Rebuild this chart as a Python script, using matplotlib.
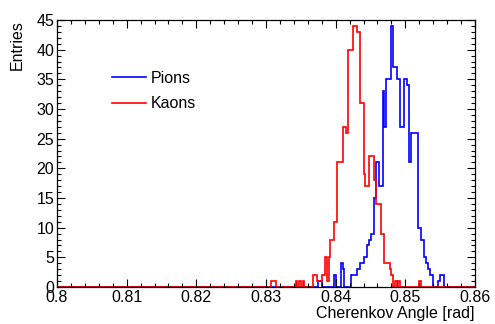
import numpy as np
import matplotlib
matplotlib.use("Agg")
import matplotlib.pyplot as plt
from matplotlib.lines import Line2D
from matplotlib.ticker import MultipleLocator

plt.rcParams['font.family'] = ['Liberation Sans', 'DejaVu Sans']

# histogram binning: 240 bins of 0.00025 rad between 0.8 and 0.86
x_min, x_max, n_bins = 0.8, 0.86, 240
first_bin = 120  # counts below start at this bin, everything else is empty

kaon_counts = [
    0, 0, 0, 1, 1, 1, 0, 0, 0, 0,
    0, 0, 0, 0, 0, 0, 0, 1, 0, 1,
    0, 1, 0, 0, 0, 0, 0, 2, 2, 1,
    1, 1, 2, 2, 5, 1, 5, 8, 8, 11,
    11, 21, 21, 21, 27, 27, 26, 40, 40, 40,
    44, 44, 43, 43, 31, 31, 19, 17, 17, 22,
    22, 22, 18, 14, 14, 14, 9, 9, 4, 4,
    4, 3, 2, 0, 1, 0, 1, 0, 0, 0,
    0, 0, 0, 0, 0, 0, 0, 0, 1, 0,
    0, 0, 0, 0, 0, 0, 0, 0, 0, 0,
    0, 0, 0, 0, 0, 0,
]

pion_counts = [
    0, 0, 0, 0, 0, 0, 0, 0, 0, 0,
    0, 0, 0, 0, 0, 0, 0, 0, 0, 0,
    0, 0, 0, 0, 0, 0, 0, 0, 0, 0,
    1, 1, 0, 0, 0, 0, 0, 0, 0, 2,
    0, 0, 0, 4, 3, 0, 0, 0, 0, 2,
    2, 2, 3, 3, 4, 4, 5, 5, 7, 8,
    9, 9, 15, 21, 21, 17, 17, 33, 27, 35,
    35, 35, 44, 37, 37, 35, 35, 27, 27, 35,
    35, 34, 21, 26, 26, 26, 26, 10, 10, 8,
    8, 5, 4, 3, 2, 2, 0, 0, 0, 1,
    2, 2, 0, 0, 0, 0,
]


def full_hist(counts):
    h = np.zeros(n_bins)
    h[first_bin:first_bin + len(counts)] = counts
    return h


def main():
    edges = np.linspace(x_min, x_max, n_bins + 1)
    pions = full_hist(pion_counts)
    kaons = full_hist(kaon_counts)

    fig = plt.figure(figsize=(4.95, 3.24), dpi=100)
    ax = fig.add_axes([57 / 495, 1 - 287 / 324, 418 / 495, 267 / 324])

    ax.stairs(pions, edges, color='#0000ff', lw=1.2)
    ax.stairs(kaons, edges, color='#ff0000', lw=1.2)

    ax.set_xlim(x_min, x_max)
    ax.set_ylim(0, 45)

    ax.xaxis.set_major_locator(MultipleLocator(0.01))
    ax.xaxis.set_minor_locator(MultipleLocator(0.002))
    ax.yaxis.set_major_locator(MultipleLocator(5))
    ax.yaxis.set_minor_locator(MultipleLocator(1))
    ax.xaxis.set_major_formatter(plt.FuncFormatter(lambda v, p: '0.8' if abs(v - 0.8) < 1e-9 else '%.2f' % v))
    ax.tick_params(which='both', direction='in', top=True, right=True,
                   labelsize=11.5, width=0.8, colors='black')
    ax.tick_params(which='major', length=6)
    ax.tick_params(which='minor', length=3)
    ax.tick_params(axis='x', pad=2)
    ax.tick_params(axis='y', pad=2)
    for s in ax.spines.values():
        s.set_linewidth(0.9)

    ax.set_xlabel('Cherenkov Angle [rad]', fontsize=11.5, loc='right', labelpad=1)
    ax.set_ylabel('Entries', fontsize=11.5, loc='top', labelpad=8)

    handles = [Line2D([], [], color='#0000ff', lw=1.2),
               Line2D([], [], color='#ff0000', lw=1.2)]
    ax.legend(handles, ['Pions', 'Kaons'], loc='upper left',
              bbox_to_anchor=(55 / 418, 1 - 51 / 267), frameon=False,
              fontsize=11.5, handlelength=2.1, handletextpad=0.35,
              labelspacing=0.65, borderpad=0, borderaxespad=0)

    fig.savefig('out.png', dpi=100)


if __name__ == '__main__':
    main()
